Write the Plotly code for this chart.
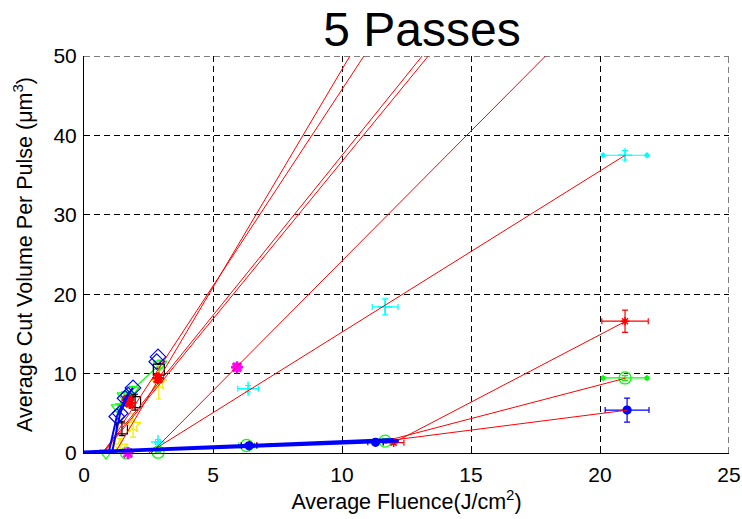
import numpy as np
import plotly.graph_objects as go

# ---------------- data ----------------
# green open down-triangles
tri_x = [0.85, 0.95, 1.32, 1.55, 1.86, 2.95]
tri_y = [0.0, -0.3, 5.7, 7.2, 7.9, 11.2]
tri_ye = [0.3, 0.3, 0.5, 0.5, 0.5, 0.5]

# blue open diamonds
dia_x = [1.27, 1.40, 1.59, 1.71, 1.90, 2.82, 2.87]
dia_y = [4.6, 5.0, 6.9, 7.3, 8.2, 11.5, 12.1]

# black open squares
sq_x = [1.47, 1.98, 2.90]
sq_y = [3.1, 6.4, 10.5]
sq_ye = [0.9, 1.0, 0.8]

# yellow stars
yel_x = [1.40, 1.90, 2.90]
yel_y = [0.8, 3.5, 8.9]
yel_ye = [1.0, 1.5, 2.1]

# red asterisks (cluster)
rast_x = [1.70, 1.78, 2.87]
rast_y = [6.7, 6.3, 9.4]

# magenta
mag_x = [1.70, 5.93]
mag_y = [0.0, 10.8]

# cyan plus
cy_x = [2.87, 6.36, 11.67, 20.97]
cy_y = [1.4, 8.1, 18.4, 37.5]
cy_xe = [0.1, 0.4, 0.5, 0.85]
cy_ye = [0.3, 0.4, 1.0, 0.6]

# red crosses
rx_x = [6.40, 12.00, 20.97]
rx_y = [1.0, 1.3, 16.6]
rx_xe = [0.3, 0.4, 0.9]
rx_ye = [0.2, 0.2, 1.4]

# green circles
gc_x = [1.65, 2.87, 6.30, 11.67, 20.97]
gc_y = [0.0, 0.1, 0.95, 1.5, 9.45]
gc_xe = [0.05, 0.1, 0.3, 0.4, 0.85]
gc_ye = [0.1, 0.1, 0.2, 0.3, 0.3]

# blue dots
bd_x = [6.40, 11.30, 21.05]
bd_y = [0.9, 1.35, 5.4]
bd_xe = [0.3, 0.3, 0.85]
bd_ye = [0.1, 0.1, 1.5]

# red linear fits: start fluence, start value, slope, end fluence
fit_x0 = [1.20, 0.75, 0.70, 0.75, 2.60, 2.50, 12.00, 11.67, 11.30]
fit_y0 = [0.0, 0.0, 0.0, 0.0, 0.0, 0.0, 1.3, 1.5, 1.35]
fit_slope = [5.49, 4.95, 4.03, 3.97, 3.27, 2.03, 1.70, 0.85, 0.415]
fit_x1 = [12.0, 12.0, 14.0, 14.0, 19.0, 20.97, 20.97, 20.97, 21.05]

# blue connecting lines
blow_x = [[0.0, 12.2], [0.0, 12.2], [0.0, 12.0]]
blow_y = [[0.0, 1.45], [0.1, 1.6], [0.2, 1.75]]
bsteep_x = [[0.94, 1.27, 1.59, 1.90], [1.07, 1.40, 1.71]]
bsteep_y = [[-0.2, 4.6, 6.9, 8.2], [-0.2, 5.0, 7.3]]

x_ticks = [0, 5, 10, 15, 20, 25]
y_ticks = [0, 10, 20, 30, 40, 50]
X_RANGE = [0, 25]
Y_RANGE = [0, 50]

FONT = "Liberation Sans, Arial, sans-serif"
fig = go.Figure()


def pts(x, y, color, symbol, size=10, xe=None, ye=None, lw=1.2):
    fig.add_trace(go.Scatter(
        x=x, y=y, mode="markers", cliponaxis=False, showlegend=False,
        marker=dict(color=color, symbol=symbol, size=size,
                    line=dict(color=color, width=lw)),
        error_x=dict(type="data", array=xe, visible=xe is not None,
                     color=color, thickness=1.2, width=3),
        error_y=dict(type="data", array=ye, visible=ye is not None,
                     color=color, thickness=1.2, width=3),
    ))


# markers
pts(gc_x, gc_y, "#00ff00", "circle-open", 12, gc_xe, gc_ye)
pts(tri_x, tri_y, "#00ff00", "triangle-down-open", 12, None, tri_ye)
fig.add_trace(go.Scatter(x=tri_x[2:], y=tri_y[2:], mode="lines", showlegend=False,
                         line=dict(color="#00ff00", width=1.2)))
pts(dia_x, dia_y, "#0000ff", "diamond-open", 12)
pts(sq_x, sq_y, "#000000", "square-open", 11, None, sq_ye)
pts(yel_x, yel_y, "#f2ea00", "star-open", 12, None, yel_ye)
pts(rast_x, rast_y, "#ff0000", "asterisk-open", 10, None, [0.5] * len(rast_x), lw=2.5)
pts(mag_x, mag_y, "#ff00ff", "asterisk-open", 10, [0.15, 0.15], [0.5, 0.5], lw=2.5)
pts(cy_x, cy_y, "#00ffff", "cross-thin-open", 10, cy_xe, cy_ye, lw=1.5)
pts(rx_x, rx_y, "#ff0000", "asterisk-open", 7, rx_xe, rx_ye, lw=1.5)
pts(bd_x, bd_y, "#0000ff", "circle", 8, bd_xe, bd_ye)

# dot ends of horizontal bars (cyan, green)
for xs, ys, xes, c in [(cy_x, cy_y, cy_xe, "#00ffff"), (gc_x, gc_y, gc_xe, "#00ff00")]:
    ex = [xs[-1] - xes[-1], xs[-1] + xes[-1]]
    fig.add_trace(go.Scatter(x=ex, y=[ys[-1]] * 2, mode="markers", showlegend=False,
                             cliponaxis=False, marker=dict(color=c, size=5)))

# red fit lines
for x0, y0, s, x1 in zip(fit_x0, fit_y0, fit_slope, fit_x1):
    xs = np.array([x0, x1])
    fig.add_trace(go.Scatter(x=xs, y=y0 + s * (xs - x0), mode="lines", showlegend=False,
                             line=dict(color="#ff0000", width=1)))

# blue lines
for xs, ys in zip(blow_x + bsteep_x, blow_y + bsteep_y):
    fig.add_trace(go.Scatter(x=xs, y=ys, mode="lines", showlegend=False,
                             line=dict(color="#0000ff", width=2)))

DASH = "6px,4px"
axis_common = dict(
    showgrid=True, gridcolor="#000000", gridwidth=1, griddash=DASH,
    showline=True, linecolor="#000000", linewidth=1,
    ticks="inside", ticklen=5, tickcolor="#000000", automargin=False,
    zeroline=False, tickfont=dict(family=FONT, size=21, color="#000000"),
)

# grid lines at the far range ends (plotly skips them)
fig.add_shape(type="line", xref="x", yref="y", x0=X_RANGE[0], x1=X_RANGE[1],
              y0=Y_RANGE[1], y1=Y_RANGE[1], layer="below",
              line=dict(color="#000000", width=1, dash=DASH))
fig.add_shape(type="line", xref="x", yref="y", x0=X_RANGE[1], x1=X_RANGE[1],
              y0=Y_RANGE[0], y1=Y_RANGE[1], layer="below",
              line=dict(color="#000000", width=1, dash=DASH))

fig.update_layout(
    width=742, height=519,
    margin=dict(l=84, r=13, t=56, b=66),
    paper_bgcolor="#ffffff", plot_bgcolor="#ffffff",
    font=dict(family=FONT, color="#000000"),
    title=dict(text="5 Passes", font=dict(family=FONT, size=48, color="#000000"),
               xref="paper", x=0.524, xanchor="center",
               yref="container", y=0.943, yanchor="middle"),
    xaxis=dict(range=X_RANGE, tickvals=x_ticks, ticklabelstandoff=3,
               title=dict(text="Average Fluence(J/cm<sup>2</sup>)",
                          font=dict(family=FONT, size=21.5), standoff=8),
               **axis_common),
    yaxis=dict(range=Y_RANGE, tickvals=y_ticks, ticklabelstandoff=2,
               title=dict(text="Average Cut Volume Per Pulse (μm<sup>3</sup>)",
                          font=dict(family=FONT, size=21.5), standoff=14),
               **axis_common),
)

fig.write_html("out.html")
